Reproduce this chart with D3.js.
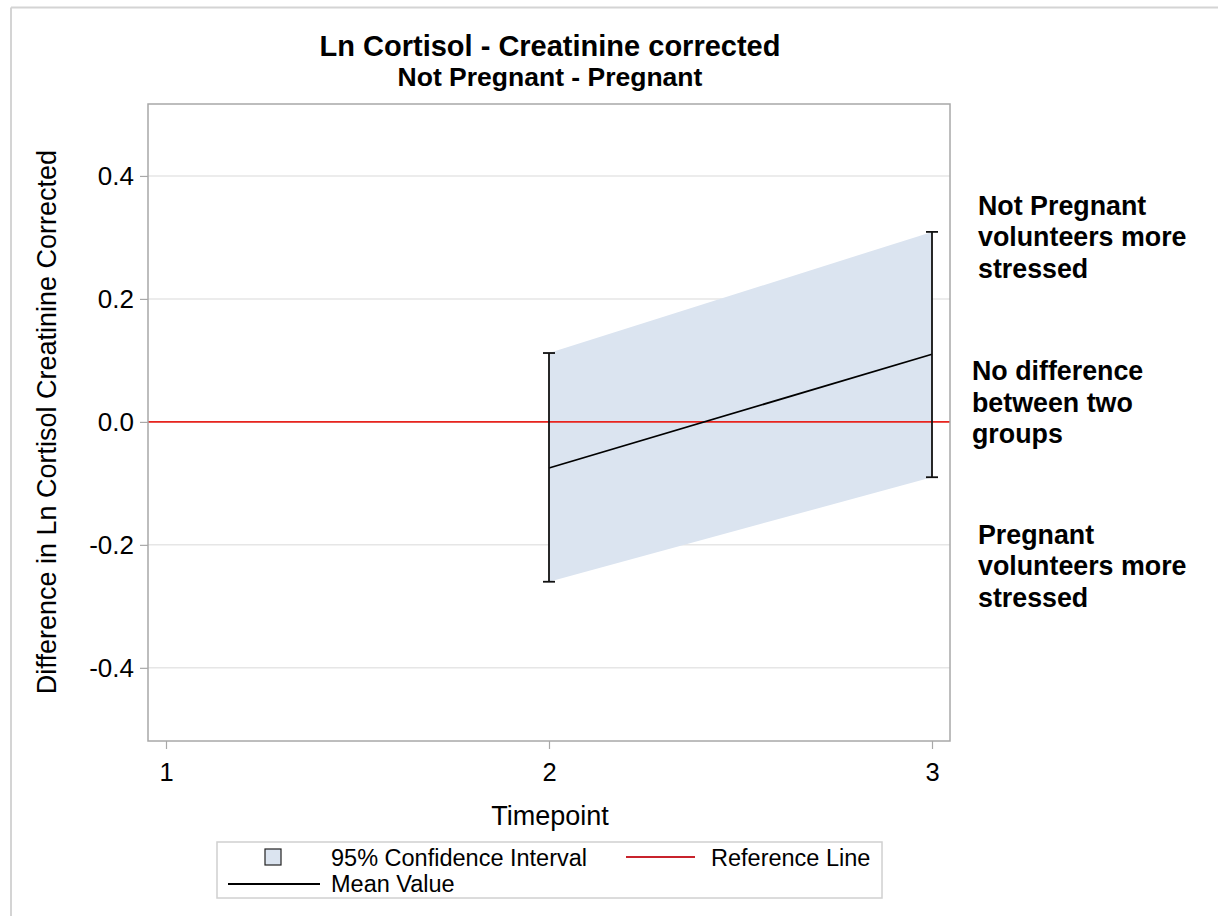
<!DOCTYPE html>
<html><head><meta charset="utf-8">
<script src="https://cdn.jsdelivr.net/npm/d3@7"></script>
<style>body{margin:0;background:#fff;}svg{display:block;font-family:"Liberation Sans",Arial,sans-serif;}</style>
</head><body>
<svg id="c" width="1218" height="916"></svg>
<script>
const timepoints = [2, 3];
const meanValues = [-0.075, 0.110];
const lowerCI = [-0.260, -0.090];
const upperCI = [0.112, 0.309];
const xTicks = [1, 2, 3];
const yTicks = [-0.4, -0.2, 0.0, 0.2, 0.4];
const referenceValue = 0;
const titleText = "Ln Cortisol - Creatinine corrected";
const subtitleText = "Not Pregnant - Pregnant";
const xLabel = "Timepoint";
const yLabel = "Difference in Ln Cortisol Creatinine Corrected";
const annotations = [
  {lines: ["Not Pregnant", "volunteers more", "stressed"], x: 978, y: 214.5},
  {lines: ["No difference", "between two", "groups"], x: 972, y: 380},
  {lines: ["Pregnant", "volunteers more", "stressed"], x: 978, y: 543.5}
];

const svg = d3.select("#c");
const L = 148, R = 950, T = 104, B = 741;
const x = d3.scaleLinear().domain([0.953, 3.047]).range([L, R]);
const y = d3.scaleLinear().domain([-0.519, 0.517]).range([B, T]);
const FF = "Liberation Sans, Arial, sans-serif";

// outer frame lines
svg.append("line").attr("x1", 11).attr("x2", 1218).attr("y1", 7.5).attr("y2", 7.5).attr("stroke", "#d4d4d4").attr("stroke-width", 2);
svg.append("line").attr("x1", 11).attr("x2", 11).attr("y1", 7.5).attr("y2", 916).attr("stroke", "#d4d4d4").attr("stroke-width", 2);

// titles
svg.append("text").attr("x", 550).attr("y", 56).attr("text-anchor", "middle").attr("font-weight", "bold").attr("font-size", 29).text(titleText);
svg.append("text").attr("x", 550).attr("y", 86).attr("text-anchor", "middle").attr("font-weight", "bold").attr("font-size", 26.5).text(subtitleText);

// gridlines
svg.append("g").selectAll("line").data(yTicks).join("line")
  .attr("x1", L).attr("x2", R).attr("y1", d => y(d)).attr("y2", d => y(d))
  .attr("stroke", "#e6e6e6").attr("stroke-width", 1.5);

// band
const data = timepoints.map((t, i) => ({t, m: meanValues[i], lo: lowerCI[i], hi: upperCI[i]}));
svg.append("path").datum(data)
  .attr("d", d3.area().x(d => x(d.t)).y0(d => y(d.lo)).y1(d => y(d.hi)))
  .attr("fill", "#dbe4f0");

// reference line
svg.append("line").attr("x1", L).attr("x2", R).attr("y1", y(referenceValue)).attr("y2", y(referenceValue))
  .attr("stroke", "#e8241e").attr("stroke-width", 1.8);

// mean line
svg.append("path").datum(data)
  .attr("d", d3.line().x(d => x(d.t)).y(d => y(d.m)))
  .attr("fill", "none").attr("stroke", "#000").attr("stroke-width", 1.8);

// error bars
const eb = svg.append("g").attr("stroke", "#111").attr("stroke-width", 1.8);
data.forEach(d => {
  eb.append("line").attr("x1", x(d.t)).attr("x2", x(d.t)).attr("y1", y(d.lo)).attr("y2", y(d.hi));
  eb.append("line").attr("x1", x(d.t) - 6).attr("x2", x(d.t) + 6).attr("y1", y(d.lo)).attr("y2", y(d.lo));
  eb.append("line").attr("x1", x(d.t) - 6).attr("x2", x(d.t) + 6).attr("y1", y(d.hi)).attr("y2", y(d.hi));
});

// plot frame
svg.append("rect").attr("x", L).attr("y", T).attr("width", R - L).attr("height", B - T)
  .attr("fill", "none").attr("stroke", "#a8a8a8").attr("stroke-width", 1.5);

// axes
const yAxis = svg.append("g").attr("transform", `translate(${L},0)`)
  .call(d3.axisLeft(y).tickValues(yTicks).tickFormat(d3.format(".1f")).tickSize(8).tickPadding(6));
yAxis.select(".domain").remove();
yAxis.selectAll("line").attr("stroke", "#a8a8a8").attr("stroke-width", 1.2);
yAxis.selectAll("text").attr("font-size", 26).attr("fill", "#000").attr("font-family", FF)
  .text(d => d3.format(".1f")(d).replace("−", "-"));

const xAxis = svg.append("g").attr("transform", `translate(0,${B})`)
  .call(d3.axisBottom(x).tickValues(xTicks).tickFormat(d3.format("d")).tickSize(8).tickPadding(14));
xAxis.select(".domain").remove();
xAxis.selectAll("line").attr("stroke", "#a8a8a8").attr("stroke-width", 1.2);
xAxis.selectAll("text").attr("font-size", 25.5).attr("fill", "#000").attr("font-family", FF);

// axis labels
svg.append("text").attr("x", 550).attr("y", 825).attr("text-anchor", "middle").attr("font-size", 27).text(xLabel);
svg.append("text").attr("transform", "translate(56,422) rotate(-90)").attr("text-anchor", "middle").attr("font-size", 27).text(yLabel);

// annotations
annotations.forEach(a => {
  const t = svg.append("text").attr("x", a.x).attr("y", a.y).attr("font-weight", "bold").attr("font-size", 26.8);
  a.lines.forEach((ln, i) => t.append("tspan").attr("x", a.x).attr("y", a.y + i * 31.5).text(ln));
});

// legend
const lg = svg.append("g");
lg.append("rect").attr("x", 217).attr("y", 842).attr("width", 665).attr("height", 56)
  .attr("fill", "#fff").attr("stroke", "#d0d0d0").attr("stroke-width", 1.5);
lg.append("rect").attr("x", 265).attr("y", 849).attr("width", 16).attr("height", 16)
  .attr("fill", "#dbe4f0").attr("stroke", "#222").attr("stroke-width", 1.2);
lg.append("text").attr("x", 331).attr("y", 865.5).attr("font-size", 23.5).text("95% Confidence Interval");
lg.append("line").attr("x1", 626).attr("x2", 695).attr("y1", 857).attr("y2", 857).attr("stroke", "#c8232c").attr("stroke-width", 1.8);
lg.append("text").attr("x", 711).attr("y", 865.5).attr("font-size", 23.5).text("Reference Line");
lg.append("line").attr("x1", 228).attr("x2", 320).attr("y1", 884).attr("y2", 884).attr("stroke", "#000").attr("stroke-width", 1.8);
lg.append("text").attr("x", 331).attr("y", 892).attr("font-size", 23.5).text("Mean Value");
</script>
</body></html>
